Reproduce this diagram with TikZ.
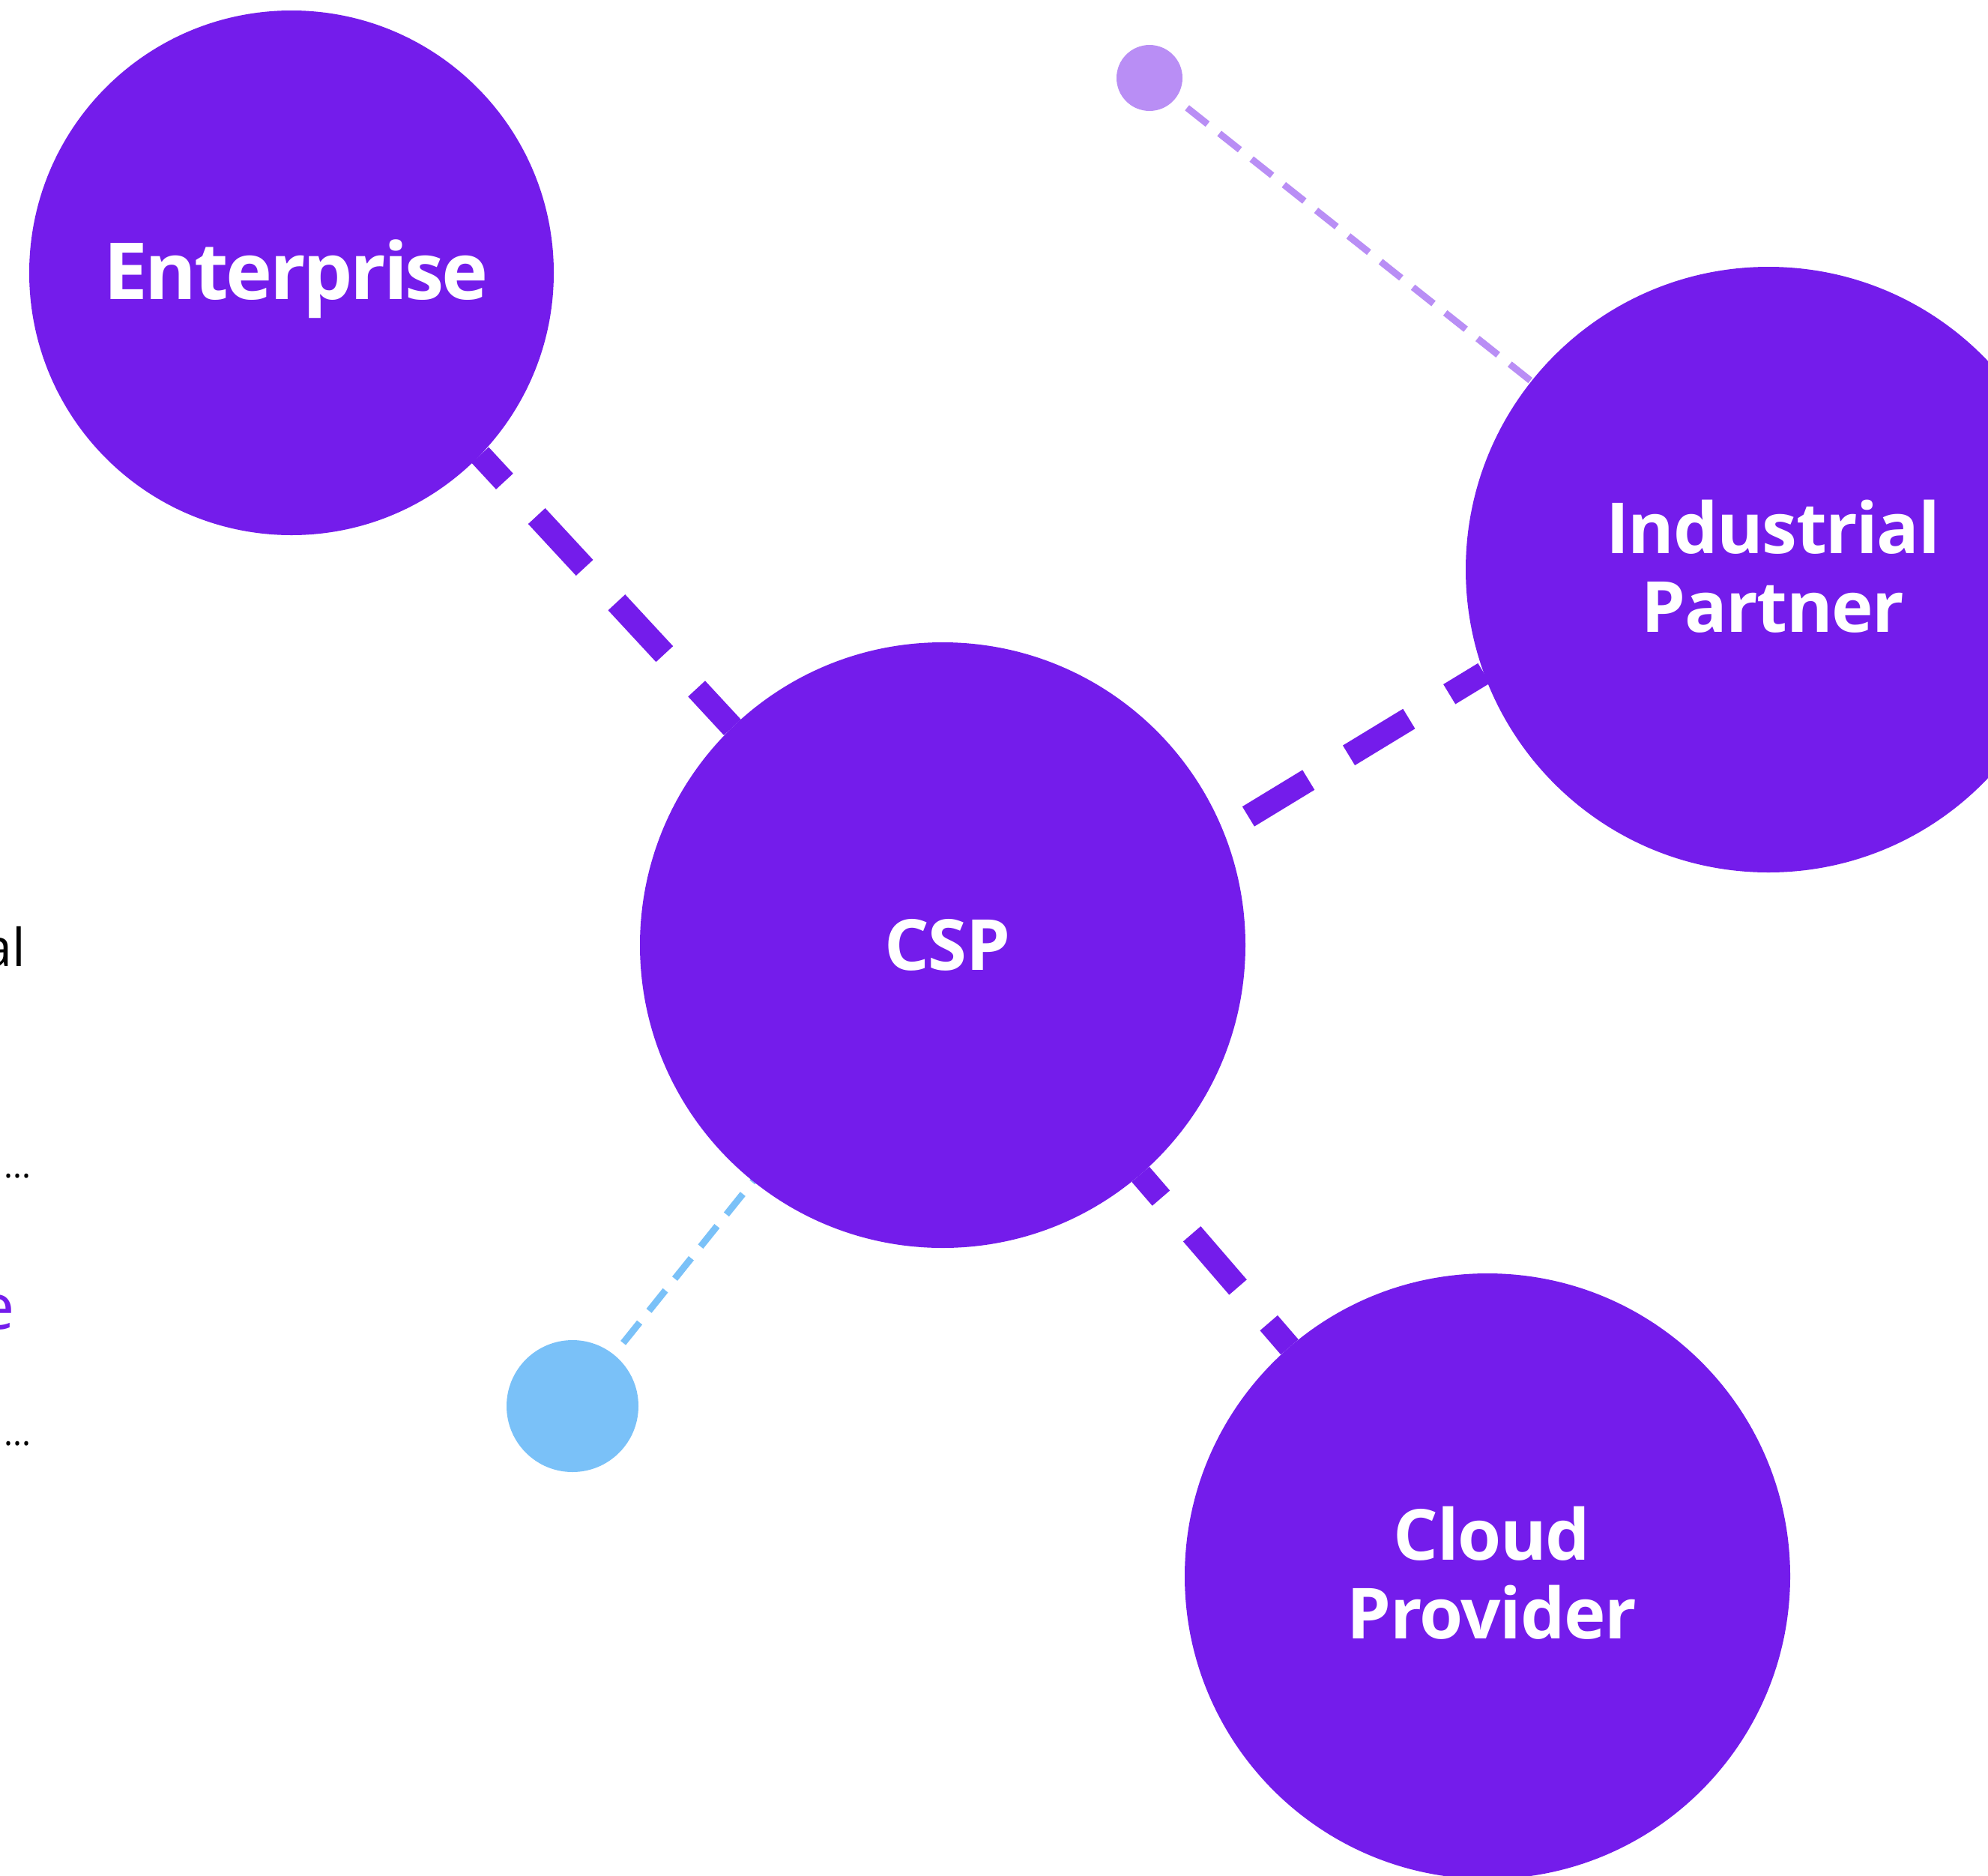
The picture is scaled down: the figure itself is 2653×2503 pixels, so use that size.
\documentclass[tikz,border=0pt]{standalone}
\usepackage{fontspec}
\setmainfont{Open Sans}
\newfontfamily\partyfont{Open Sans}[LetterSpace=-1.5]
\newfontfamily\bigpartyfont{Open Sans}[LetterSpace=-3.2]
\usetikzlibrary{backgrounds}

\definecolor{nodepurple}{HTML}{741CEB}
\definecolor{dotlilac}{HTML}{B98EF5}
\definecolor{dotblue}{HTML}{7AC1F8}

\begin{document}
\begin{tikzpicture}[x=1pt, y=-1pt,
  party/.style={circle, fill=nodepurple, inner sep=0pt, outer sep=0pt, minimum size=808pt},
  bigparty/.style={party, minimum size=700pt},
  partytext/.style={text=white, inner sep=0pt, align=center, xshift=6pt,
    font=\partyfont\fontsize{94}{105}\selectfont\bfseries},
  bigpartytext/.style={partytext, font=\bigpartyfont\fontsize{105}{115}\selectfont\bfseries},
  smalldot/.style={circle, inner sep=0pt, outer sep=0pt, minimum size=#1},
  thicklink/.style={nodepurple, line width=31pt, dash pattern=on 94pt off 63pt},
  thinlink/.style={line width=9pt, dash pattern=on 35pt off 20pt, dash phase=35pt},
  sidetext/.style={anchor=base east, inner sep=0pt, outer sep=0pt}
]
\useasboundingbox (0,0) rectangle (2653,2503);

% the four parties
\node[bigparty] (ent)   at (389,364)   {};
\node[party]    (csp)   at (1258,1261) {};
\node[party]    (ind)   at (2360,760)  {};
\node[party]    (cloud) at (1985,2103) {};

\node[bigpartytext, yshift=-8pt] (enttext) at (ent) {Enterprise};
\node[partytext]                 (csptext) at (csp) {CSP};
\node[partytext, yshift=4pt]     (indtext) at (ind) {Industrial\\Partner};
\node[partytext, yshift=4pt]     (cloudtext) at (cloud) {Cloud\\Provider};

% small dots
\node[smalldot=88pt, fill=dotlilac]  (lilac) at (1534,104)  {};
\node[smalldot=176pt, fill=dotblue]  (blue)  at (764,1876)  {};

% cut-off text at the left edge
\node[sidetext, font=\fontsize{70}{70}\selectfont] (fragal) at (34,1289) {al};
\node[sidetext, font=\fontsize{45}{45}\selectfont] (fragdotsa) at (41,1571) {...};
\node[sidetext, font=\fontsize{84}{84}\selectfont, text=nodepurple] (frage) at (20,1773) {e};
\node[sidetext, font=\fontsize{45}{45}\selectfont] (fragdotsb) at (41,1928) {...};

\begin{scope}[on background layer]
\draw[thicklink, dash phase=46pt]  (ent.316.7)  -- (csp.134.3);
\draw[thicklink, dash phase=118pt] (csp.22.9)   -- (ind.200.3);
\draw[thicklink, dash phase=52pt]  (csp)        -- (cloud);
\draw[thinlink, dotlilac] (lilac) -- (ind);
\draw[thinlink, dotblue]  (blue)  -- (csp);
\end{scope}

\end{tikzpicture}
\end{document}
